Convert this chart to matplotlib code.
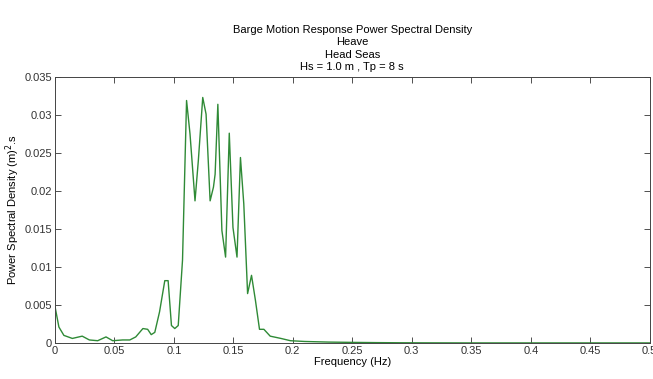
import numpy as np
import matplotlib.pyplot as plt

# frequency (Hz) and heave response PSD
freq = [0.0, 0.0034, 0.0076, 0.0147, 0.023, 0.029, 0.036, 0.043, 0.0486, 0.057,
        0.063, 0.068, 0.074, 0.078, 0.081, 0.084, 0.088, 0.0924, 0.0952, 0.098,
        0.1008, 0.1037, 0.1073, 0.1107, 0.1136, 0.1178, 0.1206, 0.1243, 0.1271,
        0.1305, 0.1333, 0.1347, 0.137, 0.1404, 0.1435, 0.1466, 0.1497, 0.1531,
        0.156, 0.1588, 0.162, 0.1653, 0.1686, 0.172, 0.1757, 0.181, 0.19, 0.198,
        0.21, 0.23, 0.25, 0.27, 0.29, 0.31, 0.35, 0.40, 0.45, 0.50]
psd = [0.0049, 0.0021, 0.0010, 0.0006, 0.0009, 0.0004, 0.0003, 0.0008, 0.0003, 0.0004,
       0.0004, 0.0008, 0.0019, 0.0018, 0.0011, 0.0014, 0.0041, 0.0082, 0.0082, 0.0023,
       0.0019, 0.0023, 0.0109, 0.0319, 0.0275, 0.0187, 0.0240, 0.0323, 0.0301,
       0.0187, 0.0205, 0.0222, 0.0314, 0.0148, 0.0113, 0.0276, 0.0152, 0.0113,
       0.0244, 0.0183, 0.0065, 0.0089, 0.0056, 0.0018, 0.0018, 0.0009, 0.0006, 0.0003,
       0.0002, 0.00012, 0.00008, 0.00005, 0.00003, 0.00002, 0.00001, 0.00001, 0.00001, 0.00001]

xticks = np.arange(0, 0.51, 0.05)
yticks = np.arange(0, 0.0351, 0.005)

plt.rcParams['font.family'] = ['Liberation Sans Narrow', 'Liberation Sans', 'DejaVu Sans']
plt.rcParams['font.size'] = 8

fig = plt.figure(figsize=(6.53, 3.79), dpi=100)
ax = fig.add_axes([0.084, 0.095, 0.911, 0.702])

ax.plot(freq, psd, color='#2f8a36', linewidth=1.0)

ax.set_xlim(0, 0.5)
ax.set_ylim(0, 0.035)
ax.set_xticks(xticks)
ax.set_xticklabels(['0', '0.05', '0.1', '0.15', '0.2', '0.25', '0.3', '0.35', '0.4', '0.45', '0.5'])
ax.set_yticks(yticks)
ax.set_yticklabels(['0', '0.005', '0.01', '0.015', '0.02', '0.025', '0.03', '0.035'])
ax.tick_params(direction='in', top=True, right=True, length=4, width=0.6,
               colors='#333333', labelsize=8, pad=2)
for s in ax.spines.values():
    s.set_linewidth(0.7)
    s.set_color('#444444')

ax.set_xlabel('Frequency (Hz)', fontsize=8, labelpad=1)
ax.set_ylabel('Power Spectral Density (m)$^2$.s', fontsize=8, labelpad=2)
ax.set_title('Barge Motion Response Power Spectral Density\nHeave\nHead Seas\nHs = 1.0 m , Tp = 8 s',
             fontsize=8, linespacing=1.3, pad=5)

fig.savefig('out.png', dpi=100)
